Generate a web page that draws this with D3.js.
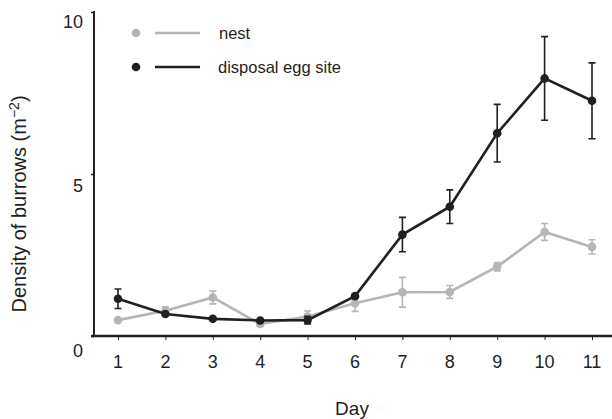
<!DOCTYPE html>
<html><head><meta charset="utf-8">
<script src="https://cdn.jsdelivr.net/npm/d3@7"></script>
<style>body{margin:0;background:#fff}svg{display:block}text{font-family:"Liberation Sans",Arial,sans-serif;fill:#231f20}</style>
</head><body><svg id="c" width="612" height="419"></svg>
<script>
const days = [1,2,3,4,5,6,7,8,9,10,11];
const nestMean = [0.49,0.78,1.19,0.37,0.60,1.01,1.35,1.36,2.14,3.21,2.75];
const nestErr  = [0.00,0.12,0.20,0.05,0.17,0.25,0.46,0.20,0.13,0.26,0.22];
const eggMean  = [1.15,0.68,0.53,0.48,0.49,1.23,3.13,3.99,6.26,7.95,7.26];
const eggErr   = [0.30,0.00,0.00,0.00,0.12,0.00,0.53,0.52,0.89,1.29,1.17];
const yTicks = [0,5,10];
const seriesNames = ["nest","disposal egg site"];

const svg = d3.select("#c");
const x = d3.scaleLinear().domain([1,11]).range([118,592]);
const y = d3.scaleLinear().domain([0,10]).range([336,12]);
const ink = "#231f20", grey = "#b5b5b5";

// axes
const yAxis = svg.append("g").attr("transform","translate(94,0)")
  .call(d3.axisLeft(y).tickValues(yTicks).tickSize(3).tickFormat(""));
yAxis.select(".domain").remove();
yAxis.selectAll("line").attr("stroke",ink).attr("stroke-width",1.5);
svg.append("line").attr("x1",94).attr("x2",94).attr("y1",y(10)-1).attr("y2",y(0))
  .attr("stroke",ink).attr("stroke-width",2);
const xAxis = svg.append("g").attr("transform",`translate(0,${y(0)})`)
  .call(d3.axisBottom(x).tickValues(days).tickSize(4).tickFormat(""));
xAxis.select(".domain").remove();
xAxis.selectAll("line").attr("stroke",ink).attr("stroke-width",1);
svg.append("line").attr("x1",91).attr("x2",612).attr("y1",y(0)).attr("y2",y(0))
  .attr("stroke",ink).attr("stroke-width",2.5);

// tick labels
const yOff = {0:21, 5:18, 10:16};
svg.selectAll(".yl").data(yTicks).enter().append("text")
  .attr("x",83).attr("y",d=>y(d)+yOff[d]).attr("text-anchor","end")
  .attr("font-size",18).text(d=>d);
svg.selectAll(".xl").data(days).enter().append("text")
  .attr("x",d=>x(d)).attr("y",368).attr("text-anchor","middle")
  .attr("font-size",18).text(d=>d);
svg.append("text").attr("x",352).attr("y",415).attr("text-anchor","middle")
  .attr("font-size",19).text("Day");
const yl = svg.append("text").attr("transform","translate(26,204) rotate(-90)")
  .attr("text-anchor","middle").attr("font-size",20);
yl.append("tspan").text("Density of burrows (m");
yl.append("tspan").attr("dy",-7).attr("font-size",14).text("\u22122");
yl.append("tspan").attr("dy",7).text(")");

function drawSeries(mean, err, color){
  const g = svg.append("g");
  const pts = days.map((d,i)=>({d, m:mean[i], e:err[i]}));
  g.selectAll(".eb").data(pts.filter(p=>p.e>0)).enter().append("path")
    .attr("d",p=>{const cx=x(p.d), t=y(p.m+p.e), b=y(p.m-p.e);
      return `M${cx},${t}V${b}M${cx-3.5},${t}H${cx+3.5}M${cx-3.5},${b}H${cx+3.5}`;})
    .attr("stroke",color).attr("stroke-width",1.6).attr("fill","none");
  g.append("path").datum(pts)
    .attr("d",d3.line().x(p=>x(p.d)).y(p=>y(p.m)))
    .attr("stroke",color).attr("stroke-width",2.6).attr("fill","none");
  g.selectAll("circle").data(pts).enter().append("circle")
    .attr("cx",p=>x(p.d)).attr("cy",p=>y(p.m)).attr("r",4.3).attr("fill",color);
}
drawSeries(nestMean, nestErr, grey);
drawSeries(eggMean, eggErr, ink);

// legend
const leg = [{n:seriesNames[0],c:grey,y:33},{n:seriesNames[1],c:ink,y:67}];
leg.forEach(l=>{
  svg.append("circle").attr("cx",136).attr("cy",l.y).attr("r",4.3).attr("fill",l.c);
  svg.append("line").attr("x1",155).attr("x2",200).attr("y1",l.y).attr("y2",l.y)
    .attr("stroke",l.c).attr("stroke-width",2.4);
  svg.append("text").attr("x",l.n==="nest"?219:218).attr("y",l.y+6).attr("font-size",16.5).text(l.n);
});
</script></body></html>
